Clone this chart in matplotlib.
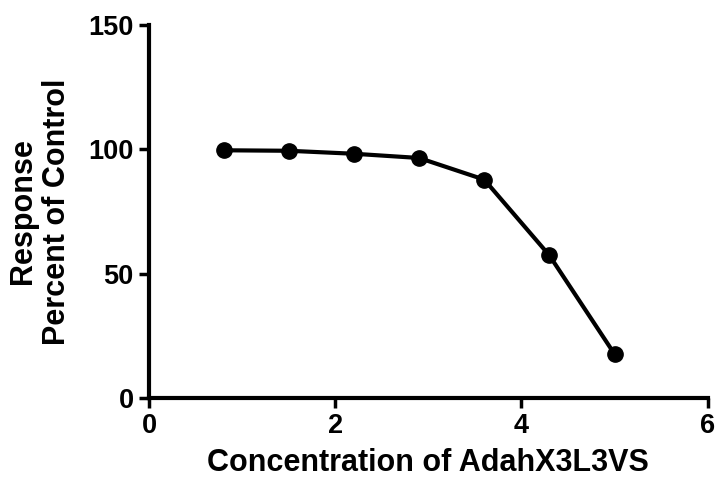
import numpy as np
import matplotlib as mpl
mpl.use('Agg')
import matplotlib.pyplot as plt

mpl.rcParams['font.family'] = ['Liberation Sans', 'DejaVu Sans']
mpl.rcParams['font.weight'] = 'bold'

# concentration vs response (% of control)
conc = [0.8, 1.5, 2.2, 2.9, 3.6, 4.3, 5.0]
resp = [99.6, 99.4, 98.2, 96.5, 87.8, 57.3, 17.6]

xticks = [0, 2, 4, 6]
yticks = [0, 50, 100, 150]

fig = plt.figure(figsize=(7.17, 4.8), dpi=100)
ax = fig.add_axes([0.208, 0.171, 0.779, 0.777])

ax.plot(conc, resp, color='black', lw=3, marker='o', markersize=11,
        clip_on=False, solid_joinstyle='round')

ax.set_xlim(0, 6)
ax.set_ylim(0, 150)
ax.set_xticks(xticks)
ax.set_yticks(yticks)

for side in ['top', 'right']:
    ax.spines[side].set_visible(False)
for side in ['left', 'bottom']:
    ax.spines[side].set_linewidth(3)

ax.tick_params(axis='both', direction='out', length=7.5, width=2.5,
               labelsize=19.5, pad=3.5)
for lab in ax.get_xticklabels() + ax.get_yticklabels():
    lab.set_fontweight('bold')

ax.set_xlabel('Concentration of AdahX3L3VS', fontsize=22, fontweight='bold', labelpad=6)
ax.set_ylabel('Response\nPercent of Control', fontsize=22, fontweight='bold',
              labelpad=12, linespacing=1.15)

fig.savefig('out.png', dpi=100)
